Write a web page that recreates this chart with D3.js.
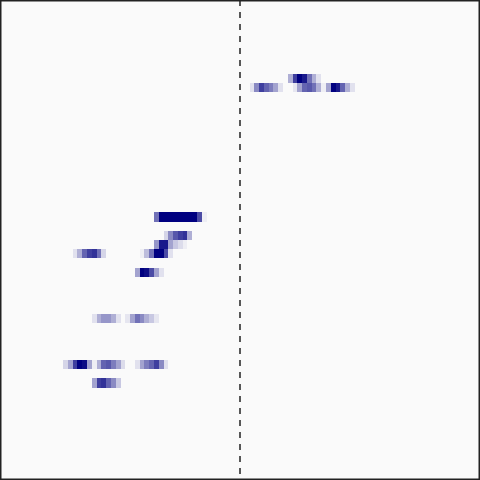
<!DOCTYPE html>
<html>
<head>
<meta charset="utf-8">
<script src="https://cdn.jsdelivr.net/npm/d3@7"></script>
<style>
  html, body { margin: 0; padding: 0; background: #fafafa; }
  svg { display: block; }
</style>
</head>
<body>
<script>
// Grid dimensions
const nCols = 100;
const nRows = 52;
const splitCol = 50; // dashed divider

// Strips of cells: row index, first column, intensities (0..1)
const stripRows   = [8, 9, 9, 23, 25, 26, 27, 27, 29, 34, 34, 39, 39, 41];
const stripStarts = [60, 52, 61, 32, 34, 32, 15, 29, 28, 19, 26, 13, 28, 19];
const stripValues = [
  [0.3, 0.75, 1.0, 0.9, 0.55, 0.3, 0.1],
  [0.1, 0.45, 0.75, 0.6, 0.5, 0.35, 0.1],
  [0.08, 0.35, 0.6, 0.65, 0.55, 0.3, 0.05, 0.35, 1.0, 0.9, 0.6, 0.3, 0.1],
  [0.55, 1, 1, 1, 1, 1, 1, 1, 1, 0.7, 0.05],
  [0.15, 0.45, 0.65, 0.75, 0.8, 0.3],
  [0.4, 0.9, 0.9, 0.35, 0.2, 0.12, 0.05],
  [0.1, 0.3, 0.6, 0.75, 0.8, 0.55, 0.15],
  [0.05, 0.25, 0.55, 1, 1, 0.7, 0.1],
  [0.35, 1, 0.95, 0.7, 0.35, 0.1],
  [0.1, 0.3, 0.4, 0.4, 0.3, 0.1],
  [0.08, 0.35, 0.55, 0.45, 0.3, 0.2, 0.08],
  [0.15, 0.35, 0.75, 1, 0.95, 0.35, 0.05, 0.3, 0.6, 0.65, 0.5, 0.35, 0.12],
  [0.1, 0.35, 0.5, 0.6, 0.75, 0.45, 0.1],
  [0.35, 0.75, 0.8, 0.6, 0.45, 0.2]
];

const W = 480, H = 480;

const cells = [];
stripRows.forEach((r, i) => {
  stripValues[i].forEach((v, j) => {
    cells.push({ row: r, col: stripStarts[i] + j, v: v });
  });
});

const x = d3.scaleLinear().domain([0, nCols]).range([1, W - 1]);
const y = d3.scaleLinear().domain([0, nRows]).range([0, H]);
const color = d3.scaleLinear().domain([0, 1]).range(["#fafafa", "#000080"]).interpolate(d3.interpolateRgb);

const svg = d3.select("body").append("svg")
  .attr("width", W).attr("height", H);

svg.append("rect")
  .attr("x", 0).attr("y", 0).attr("width", W).attr("height", H)
  .attr("fill", "#fafafa");

svg.append("g")
  .attr("shape-rendering", "crispEdges")
  .selectAll("rect")
  .data(cells)
  .join("rect")
  .attr("x", d => x(d.col))
  .attr("y", d => y(d.row))
  .attr("width", d => x(d.col + 1) - x(d.col))
  .attr("height", d => y(d.row + 1) - y(d.row))
  .attr("fill", d => color(d.v));

svg.append("line")
  .attr("x1", x(splitCol)).attr("x2", x(splitCol))
  .attr("y1", 0).attr("y2", H)
  .attr("stroke", "#222")
  .attr("stroke-width", 1.5)
  .attr("stroke-dasharray", "6,6");

svg.append("rect")
  .attr("x", 0.75).attr("y", 0.75)
  .attr("width", W - 1.5).attr("height", H - 1.5)
  .attr("fill", "none")
  .attr("stroke", "#222")
  .attr("stroke-width", 1.5);
</script>
</body>
</html>
